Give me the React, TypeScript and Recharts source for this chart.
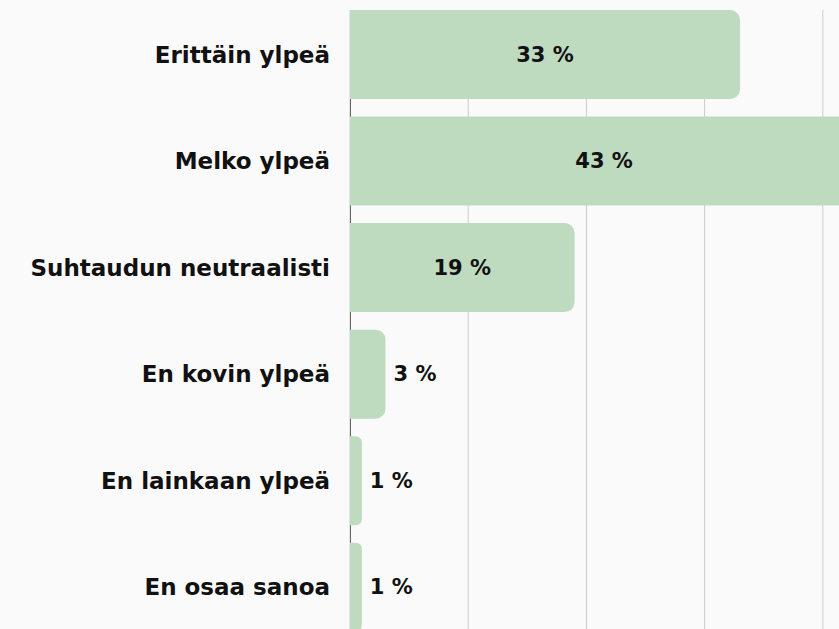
import { BarChart, Bar, XAxis, YAxis, CartesianGrid, LabelList } from 'recharts';

const categories = [
  'Erittäin ylpeä',
  'Melko ylpeä',
  'Suhtaudun neutraalisti',
  'En kovin ylpeä',
  'En lainkaan ylpeä',
  'En osaa sanoa',
];
const shares = [33, 43, 19, 3, 1, 1];
const xTicks = [0, 10, 20, 30, 40, 50];

const data = categories.map((name, i) => ({ name, value: shares[i] }));

const FONT = '"DejaVu Sans", sans-serif';
const BAR = '#bedabf';

/** Big bars get the label centred inside, small ones just past the end. */
function ValueLabel(props: any) {
  const { x, y, width, height, value } = props;
  const inside = Number(value) >= 10;
  return (
    <text
      x={inside ? x + width / 2 : x + width + 8}
      y={y + height / 2}
      textAnchor={inside ? 'middle' : 'start'}
      dominantBaseline="central"
      fontFamily={FONT}
      fontWeight={700}
      fontSize={21}
      fill="#111"
    >
      {`${value} %`}
    </text>
  );
}

export default function App() {
  return (
    <div
      style={{
        position: 'fixed',
        top: 0,
        left: 0,
        width: 839,
        height: 629,
        overflow: 'hidden',
        background: '#fafafa',
      }}
    >
      <BarChart
        width={941}
        height={660}
        data={data}
        layout="vertical"
        margin={{ top: 10, right: 0, bottom: 0, left: 0 }}
        barCategoryGap={8.9}
      >
        <CartesianGrid horizontal={false} stroke="#cccccc" />
        {/* the zero line sits behind the bars, so it only shows in the gaps */}
        <CartesianGrid horizontal={false} verticalPoints={[350.5]} stroke="#666" />
        <XAxis type="number" domain={[0, 50]} ticks={xTicks} hide />
        <YAxis
          type="category"
          dataKey="name"
          width={350}
          padding={{ top: -8.9, bottom: 19.6 }}
          axisLine={false}
          tickLine={false}
          tickSize={0}
          tickMargin={20}
          tick={{ fontFamily: FONT, fontWeight: 700, fontSize: 23, fill: '#111' }}
        />
        <Bar dataKey="value" fill={BAR} radius={[0, 10, 10, 0]} isAnimationActive={false}>
          <LabelList dataKey="value" content={ValueLabel} />
        </Bar>
      </BarChart>
    </div>
  );
}
